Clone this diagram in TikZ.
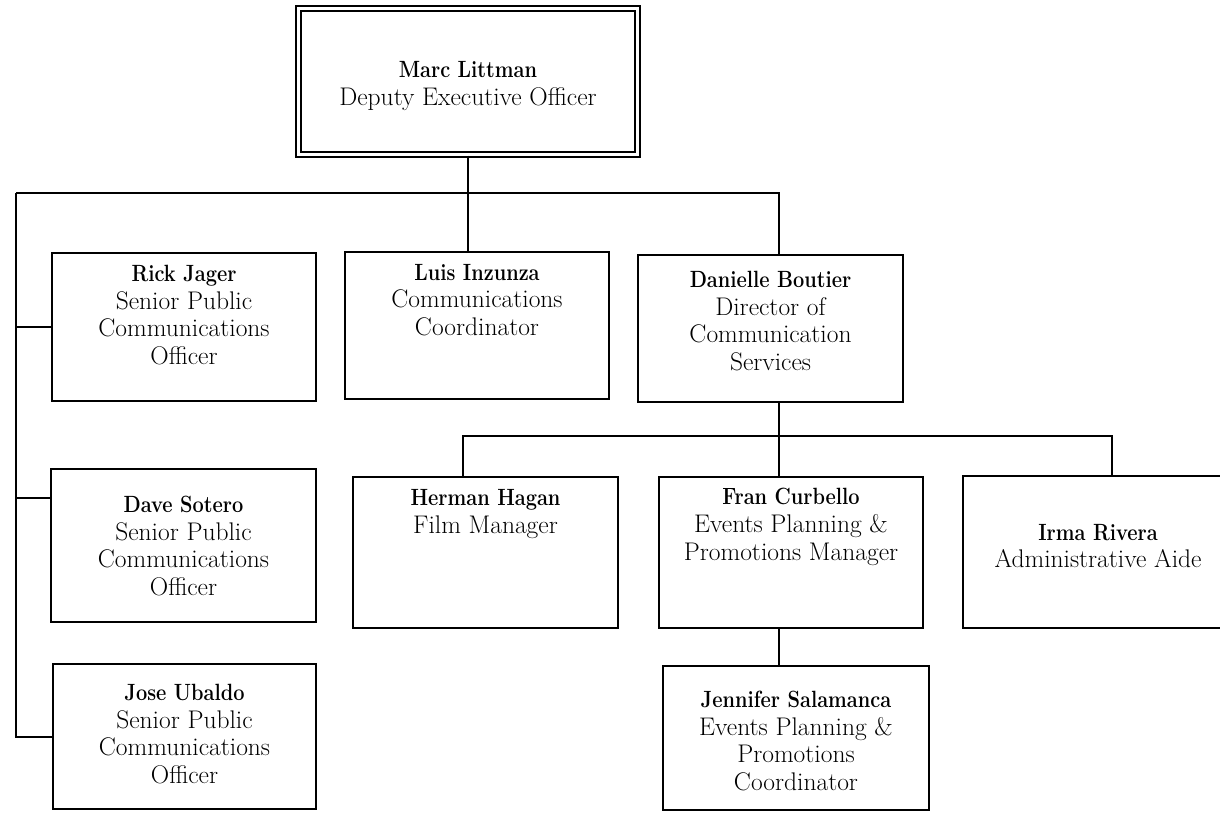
\documentclass[tikz,border=0pt]{standalone}
\usepackage{fontspec}
\begin{document}
\begin{tikzpicture}[x=1pt,y=-1pt,
  box/.style={draw=black, line width=2pt, rectangle, inner sep=0pt},
  topbox/.style={draw=black, line width=2pt, double=white, double distance=3pt, rectangle, inner sep=0pt},
  txt/.style={align=center, inner sep=0pt, font=\fontsize{25.5}{27.8}\selectfont},
  conn/.style={draw=black, line width=2pt},
]
\newcommand{\nm}[1]{\scalebox{0.85}[1]{\fontsize{23.5}{27.8}\selectfont\bfseries #1}}
\useasboundingbox (0,0) rectangle (1220,812);
\fill[white] (0,0) rectangle (1220,812);
\begin{scope}
\clip (0,0) rectangle (1220,812);
% boxes
\node[topbox, minimum width=339pt, minimum height=146pt] (marc) at (468,81.5) {};
\node[box, minimum width=264pt, minimum height=148pt] (rick) at (184,327) {};
\node[box, minimum width=264pt, minimum height=147pt] (luis) at (477,325.5) {};
\node[box, minimum width=265pt, minimum height=147pt] (dan) at (770.5,328.5) {};
\node[box, minimum width=265pt, minimum height=153pt] (dave) at (183.5,545.5) {};
\node[box, minimum width=263pt, minimum height=145pt] (jose) at (184.5,736.5) {};
\node[box, minimum width=265pt, minimum height=151pt] (herman) at (485.5,552.5) {};
\node[box, minimum width=264pt, minimum height=151pt] (fran) at (791,552.5) {};
\node[box, minimum width=270pt, minimum height=152pt] (irma) at (1098,552) {};
\node[box, minimum width=266pt, minimum height=144pt] (jen) at (796,738) {};
% texts
\node[txt] (marct) at (468,86) {\nm{Marc Littman}\\Deputy Executive Officer};
\node[txt] (rickt) at (184,315) {\nm{Rick Jager}\\Senior Public\\Communications\\Officer};
\node[txt] (luist) at (477,300) {\nm{Luis Inzunza}\\Communications\\Coordinator};
\node[txt] (dant) at (770.5,321) {\nm{Danielle Boutier}\\Director of\\Communication\\Services};
\node[txt] (davet) at (183.5,546) {\nm{Dave Sotero}\\Senior Public\\Communications\\Officer};
\node[txt] (joset) at (184.5,734) {\nm{Jose Ubaldo}\\Senior Public\\Communications\\Officer};
\node[txt] (hermant) at (485.5,514) {\nm{Herman Hagan}\\Film Manager};
\node[txt] (frant) at (791,527) {\nm{Fran Curbello}\\Events Planning \&\\Promotions Manager};
\node[txt] (irmat) at (1098,546) {\nm{Irma Rivera}\\Administrative Aide};
\node[txt] (jent) at (796,741) {\nm{Jennifer Salamanca}\\Events Planning \&\\Promotions\\Coordinator};
% bus coordinates
\coordinate (busL) at (16,193);
\coordinate (busM) at (468,193);
\coordinate (busR) at (779,193);
\coordinate (bus2L) at (463,436);
\coordinate (bus2M) at (779,436);
\coordinate (bus2R) at (1112,436);
% connectors
\draw[conn] (marc.south) -- (busM);
\draw[conn] (busL) -- (busR) -- (busR |- dan.north);
\draw[conn] (busM) -- (busM |- luis.north);
\draw[conn] (busL) -- (busL |- jose.west) -- (jose.west);
\draw[conn] (busL |- rick.west) -- (rick.west);
\draw[conn] (busL |- 0,498) -- (dave.west |- 0,498);
\draw[conn] (bus2M |- dan.south) -- (bus2M);
\draw[conn] (bus2L |- herman.north) -- (bus2L) -- (bus2R) -- (bus2R |- irma.north);
\draw[conn] (bus2M) -- (bus2M |- fran.north);
\draw[conn] (bus2M |- fran.south) -- (bus2M |- jen.north);
\end{scope}
\end{tikzpicture}
\end{document}
